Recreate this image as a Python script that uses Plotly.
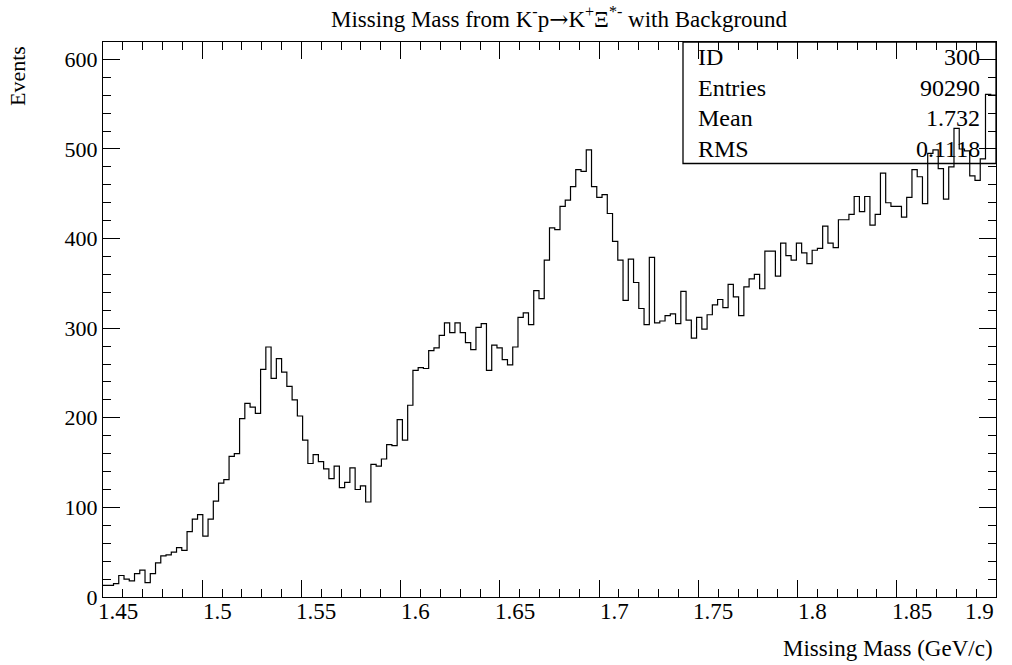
import numpy as np
import plotly.graph_objects as go

# ---- data ----
x_lo, x_hi, n_bins = 1.45, 1.9, 170
counts = [13, 13, 15, 24, 20, 18, 26, 30, 16, 26,
          38, 46, 47, 50, 55, 52, 73, 87, 92, 68,
          87, 107, 127, 131, 157, 160, 199, 216, 212, 205,
          254, 279, 244, 266, 251, 235, 220, 202, 175, 149,
          159, 151, 143, 132, 146, 122, 128, 144, 120, 124,
          106, 148, 146, 154, 170, 169, 198, 175, 214, 253,
          256, 255, 275, 278, 292, 306, 295, 306, 295, 284,
          276, 301, 305, 253, 281, 278, 265, 259, 279, 312,
          317, 304, 342, 333, 376, 412, 410, 436, 443, 458,
          477, 475, 499, 458, 446, 449, 428, 397, 376, 331,
          377, 351, 322, 304, 379, 306, 308, 314, 316, 305,
          341, 309, 289, 312, 299, 315, 326, 332, 323, 349,
          335, 314, 346, 355, 360, 344, 386, 386, 358, 395,
          381, 376, 395, 384, 372, 387, 389, 414, 395, 390,
          421, 421, 427, 447, 430, 447, 415, 427, 473, 440,
          436, 436, 424, 446, 477, 469, 439, 495, 499, 478,
          444, 480, 523, 500, 498, 470, 465, 489, 561, 560]
x_ticks = [1.45, 1.5, 1.55, 1.6, 1.65, 1.7, 1.75, 1.8, 1.85, 1.9]
x_tick_labels = ["1.45", "1.5", "1.55", "1.6", "1.65", "1.7", "1.75", "1.8", "1.85", "1.9"]
y_ticks = [0, 100, 200, 300, 400, 500, 600]
stats_labels = ["ID", "Entries", "Mean", "RMS"]
stats_values = ["300", "90290", "1.732", "0.1118"]

edges = np.linspace(x_lo, x_hi, n_bins + 1)
step_x = list(edges)
step_y = counts + [counts[-1]]

FONT = "Liberation Serif"
TXT = 23

fig = go.Figure()
fig.add_trace(go.Scatter(x=step_x, y=step_y, mode="lines",
                         line=dict(shape="hv", color="black", width=1.2),
                         hoverinfo="skip", showlegend=False))

L, R, T, B = 103, 16, 42, 68
W, H = 1012, 665
pw, ph = W - L - R, H - T - B

def px_x(p):
    return (p - L) / pw

def px_y(p):
    return (H - B - p) / ph

annotations = []
# x tick labels
for v, lab in zip(x_ticks, x_tick_labels):
    last = (v == x_ticks[-1])
    annotations.append(dict(x=v, xref="x", y=px_y(611), yref="paper",
                            text=lab, showarrow=False,
                            xanchor="right" if last else "center",
                            xshift=0 if last else 15,
                            yanchor="middle",
                            font=dict(family=FONT, size=TXT, color="black")))
# title
annotations.append(dict(x=px_x(559), y=px_y(17), xref="paper", yref="paper",
                        text="Missing Mass from K<sup>-</sup>p<span style='font-family:DejaVu Serif'>\u2192</span>K<sup>+</sup>\u039e<sup>*-</sup> with Background",
                        showarrow=False, xanchor="center", yanchor="middle",
                        font=dict(family=FONT, size=23, color="black")))
# axis titles
annotations.append(dict(x=px_x(995), y=px_y(648), xref="paper", yref="paper",
                        text="Missing Mass (GeV/c)", showarrow=False,
                        xanchor="right", yanchor="middle",
                        font=dict(family=FONT, size=TXT, color="black")))
annotations.append(dict(x=px_x(18), y=px_y(44), xref="paper", yref="paper",
                        text="Events", showarrow=False, textangle=-90,
                        xanchor="center", yanchor="top",
                        font=dict(family=FONT, size=TXT - 1, color="black")))
# stats box text
row_centers = [57, 87.5, 118, 148.5]
for lab, val, yc in zip(stats_labels, stats_values, row_centers):
    annotations.append(dict(x=px_x(696), y=px_y(yc), xref="paper", yref="paper",
                            text=lab, showarrow=False, xanchor="left", yanchor="middle",
                            font=dict(family=FONT, size=24, color="black")))
    annotations.append(dict(x=px_x(982), y=px_y(yc), xref="paper", yref="paper",
                            text=val, showarrow=False, xanchor="right", yanchor="middle",
                            font=dict(family=FONT, size=24, color="black")))

shapes = [dict(type="rect", xref="paper", yref="paper",
               x0=px_x(683), x1=1.0, y0=px_y(163.5), y1=1.0,
               line=dict(color="black", width=1.3), fillcolor="rgba(0,0,0,0)")]

fig.update_layout(
    width=W, height=H,
    margin=dict(l=L, r=R, t=T, b=B, pad=0),
    paper_bgcolor="white", plot_bgcolor="white",
    annotations=annotations, shapes=shapes,
    xaxis=dict(range=[x_lo, x_hi], tickvals=x_ticks, showticklabels=False,
               ticks="inside", ticklen=17, tickwidth=1, tickcolor="black",
               minor=dict(ticks="inside", ticklen=8, dtick=0.01, tick0=1.45,
                          tickcolor="black", tickwidth=1),
               showline=True, linecolor="black", linewidth=1.3, mirror="ticks",
               showgrid=False, zeroline=False),
    yaxis=dict(range=[0, 619.4], tickvals=y_ticks,
               ticks="inside", ticklen=17, tickwidth=1, tickcolor="black",
               minor=dict(ticks="inside", ticklen=8, dtick=20, tick0=0,
                          tickcolor="black", tickwidth=1),
               showline=True, linecolor="black", linewidth=1.3, mirror="ticks",
               showgrid=False, zeroline=False,
               tickfont=dict(family=FONT, size=TXT - 1, color="black")),
)

fig.write_html("out.html", config={"displayModeBar": False},
               post_script="document.body.style.margin='0';")
